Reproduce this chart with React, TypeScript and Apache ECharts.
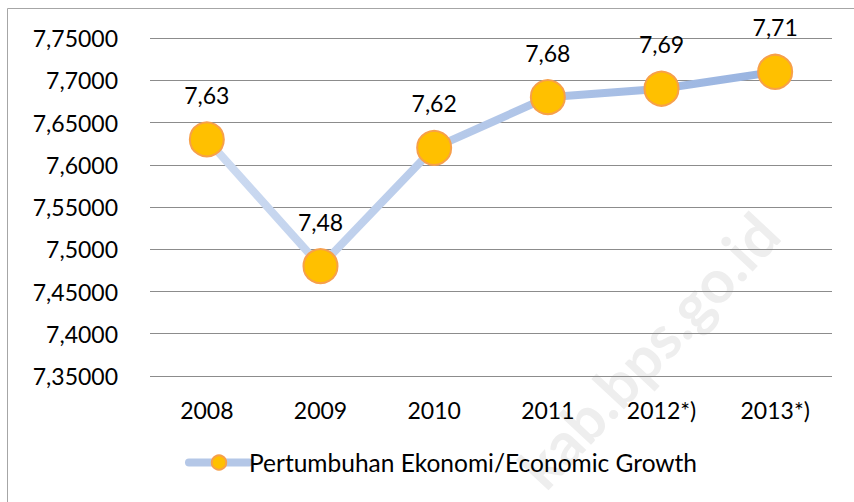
import React, { useEffect, useRef } from "react";
import * as echarts from "echarts";

const categories = ["2008", "2009", "2010", "2011", "2012*)", "2013*)"];
const growthValues = [7.63, 7.48, 7.62, 7.68, 7.69, 7.71];
const yTickLabels = ["7,35000", "7,4000", "7,45000", "7,5000", "7,55000", "7,6000", "7,65000", "7,7000", "7,75000"];
const seriesName = "Pertumbuhan Ekonomi/Economic Growth";
const watermarkText = "kab.bps.go.id";
const yMin = 7.35;
const yMax = 7.75;
const yStep = 0.05;

const FONT = "Lato";

export default function App() {
  const ref = useRef<HTMLDivElement>(null);
  useEffect(() => {
    if (!ref.current) return;
    const chart = echarts.init(ref.current, null, { renderer: "svg" });
    const lineGrad = new echarts.graphic.LinearGradient(0, 0, 1, 0, [
      { offset: 0, color: "#cddbf1" },
      { offset: 1, color: "#98b3e0" },
    ]);
    chart.setOption({
      animation: false,
      backgroundColor: "#ffffff",
      textStyle: { fontFamily: FONT },
      graphic: [
        {
          type: "rect",
          z: -20,
          silent: true,
          shape: { x: 7.5, y: 8.5, width: 1000, height: 1000 },
          style: { fill: "none", stroke: "#a6a6a6", lineWidth: 1 },
        },
        {
          type: "text",
          z: -10,
          silent: true,
          x: 648,
          y: 350,
          rotation: 0.82,
          style: {
            text: watermarkText,
            fill: "#eeeeee",
            font: "bold 60px " + FONT,
            align: "center",
            verticalAlign: "middle",
          },
        },
      ],
      grid: { left: 150, right: 22, top: 38, bottom: 126, containLabel: false },
      legend: {
        bottom: 22,
        left: 180,
        itemWidth: 60,
        itemHeight: 18,
        itemGap: 10,
        lineStyle: { color: "#b4c7e7", width: 8, cap: "round" },
        textStyle: { fontFamily: FONT, fontSize: 24.5, color: "#000000", padding: [0, 0, 0, -5] },
        data: [{ name: seriesName, lineStyle: { color: "#b4c7e7", width: 8, cap: "round" } }],
      },
      xAxis: {
        type: "category",
        data: categories,
        boundaryGap: true,
        axisLine: { show: false },
        axisTick: { show: false },
        axisLabel: { fontFamily: FONT, fontSize: 23, color: "#000000", margin: 22 },
      },
      yAxis: {
        type: "value",
        min: yMin,
        max: yMax,
        interval: yStep,
        axisLine: { show: false },
        axisTick: { show: false },
        splitLine: { lineStyle: { color: "#8c8c8c", width: 1 } },
        axisLabel: {
          fontFamily: FONT,
          fontSize: 23,
          color: "#000000",
          margin: 32,
          formatter: (v: number) => {
            const i = Math.round((v - yMin) / yStep);
            return yTickLabels[i] ?? "";
          },
        },
      },
      series: [
        {
          name: seriesName,
          type: "line",
          data: growthValues,
          symbol: "circle",
          symbolSize: 34,
          lineStyle: { width: 8, color: lineGrad, cap: "round" },
          itemStyle: { color: "#ffc000", borderColor: "#f7a04a", borderWidth: 2 },
          label: {
            show: true,
            position: "top",
            distance: 15,
            fontFamily: FONT,
            fontSize: 23,
            color: "#000000",
            formatter: (p: any) => Number(p.value).toFixed(2).replace(".", ","),
          },
          z: 3,
        },
      ],
    });
    return () => chart.dispose();
  }, []);
  return <div ref={ref} style={{ width: 854, height: 502, position: "absolute", left: 0, top: 0 }} />;
}
